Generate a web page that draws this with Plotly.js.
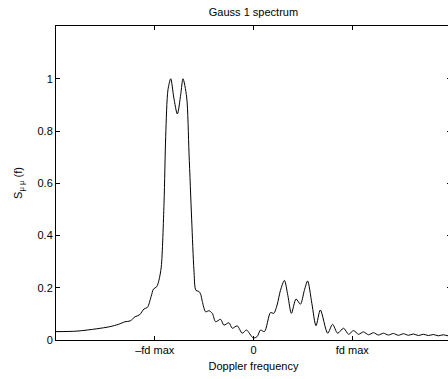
<!DOCTYPE html>
<html>
<head>
<meta charset="utf-8">
<script src="https://cdn.plot.ly/plotly-3.0.1.min.js"></script>
<style>
html,body{margin:0;padding:0;overflow:hidden;background:#fff;}
#plot{width:460px;height:379px;}
</style>
</head>
<body>
<div id="plot"></div>
<script>
// Doppler frequency in units of fd max
const freq = [-2.0, -1.788, -1.586, -1.455, -1.367, -1.300, -1.249, -1.199, -1.155, -1.108, -1.074, -1.037, -1.013, -0.980, -0.957, -0.934, -0.906, -0.889, -0.866, -0.838, -0.808, -0.771, -0.737, -0.714, -0.677, -0.653, -0.626, -0.603, -0.583, -0.553, -0.535, -0.518, -0.485, -0.452, -0.417, -0.384, -0.333, -0.300, -0.249, -0.215, -0.165, -0.114, -0.071, -0.003, 0.037, 0.071, 0.111, 0.172, 0.205, 0.239, 0.273, 0.313, 0.348, 0.384, 0.431, 0.475, 0.515, 0.548, 0.591, 0.633, 0.677, 0.751, 0.801, 0.852, 0.912, 0.963, 1.013, 1.064, 1.114, 1.165, 1.215, 1.265, 1.316, 1.366, 1.417, 1.467, 1.518, 1.569, 1.619, 1.670, 1.720, 1.771, 1.821, 1.872, 1.922, 1.970, 2.0];
// Spectrum S_mumu(f)
const spectrum = [0.032, 0.034, 0.043, 0.051, 0.060, 0.070, 0.073, 0.089, 0.096, 0.119, 0.125, 0.166, 0.195, 0.204, 0.230, 0.28, 0.524, 0.78, 0.958, 1.0, 0.93, 0.865, 0.94, 1.0, 0.93, 0.715, 0.46, 0.268, 0.19, 0.186, 0.175, 0.147, 0.108, 0.112, 0.102, 0.070, 0.079, 0.057, 0.066, 0.045, 0.054, 0.026, 0.038, 0.008, 0.013, 0.038, 0.032, 0.105, 0.102, 0.134, 0.19, 0.228, 0.17, 0.102, 0.157, 0.137, 0.19, 0.226, 0.14, 0.055, 0.115, 0.026, 0.06, 0.026, 0.045, 0.022, 0.036, 0.022, 0.031, 0.020, 0.028, 0.019, 0.026, 0.019, 0.025, 0.018, 0.024, 0.018, 0.023, 0.017, 0.022, 0.017, 0.021, 0.016, 0.020, 0.016, 0.018];
const xTickVals = [-1, 0, 1];
const xTickText = ['\u2013fd max', '0', 'fd max'];
const yTickVals = [0, 0.2, 0.4, 0.6, 0.8, 1];

const font = {family: 'Liberation Sans, Arial, sans-serif', size: 11, color: '#000'};

Plotly.newPlot('plot', [{
  x: freq, y: spectrum, type: 'scatter', mode: 'lines',
  line: {color: '#000', width: 1, shape: 'spline', smoothing: 0.8},
  hoverinfo: 'skip'
}], {
  width: 460, height: 379,
  margin: {l: 56, r: 9, t: 26, b: 39, pad: 0},
  paper_bgcolor: '#fff', plot_bgcolor: '#fff',
  font: font,
  showlegend: false,
  title: {text: 'Gauss 1 spectrum', font: {family: font.family, size: 11, color: '#000'}, x: 0.551, xanchor: 'center', y: 0.968, yanchor: 'middle'},
  xaxis: {
    range: [-2, 2], tickvals: xTickVals, ticktext: xTickText,
    ticks: 'inside', ticklen: 4, tickcolor: '#000', tickwidth: 1,
    showline: true, linecolor: '#000', linewidth: 1, mirror: 'ticks',
    showgrid: false, zeroline: false,
    tickfont: font,
    title: {text: 'Doppler frequency', font: font, standoff: 7}
  },
  yaxis: {
    range: [0, 1.202], tickvals: yTickVals,
    ticks: 'inside', ticklen: 4, tickcolor: '#000', tickwidth: 1,
    showline: true, linecolor: '#000', linewidth: 1, mirror: 'ticks',
    showgrid: false, zeroline: false,
    tickfont: font,
    title: {text: 'S<sub>\u03bc \u03bc</sub> (f)', font: font, standoff: 12}
  }
}, {staticPlot: true, displayModeBar: false});
</script>
</body>
</html>
